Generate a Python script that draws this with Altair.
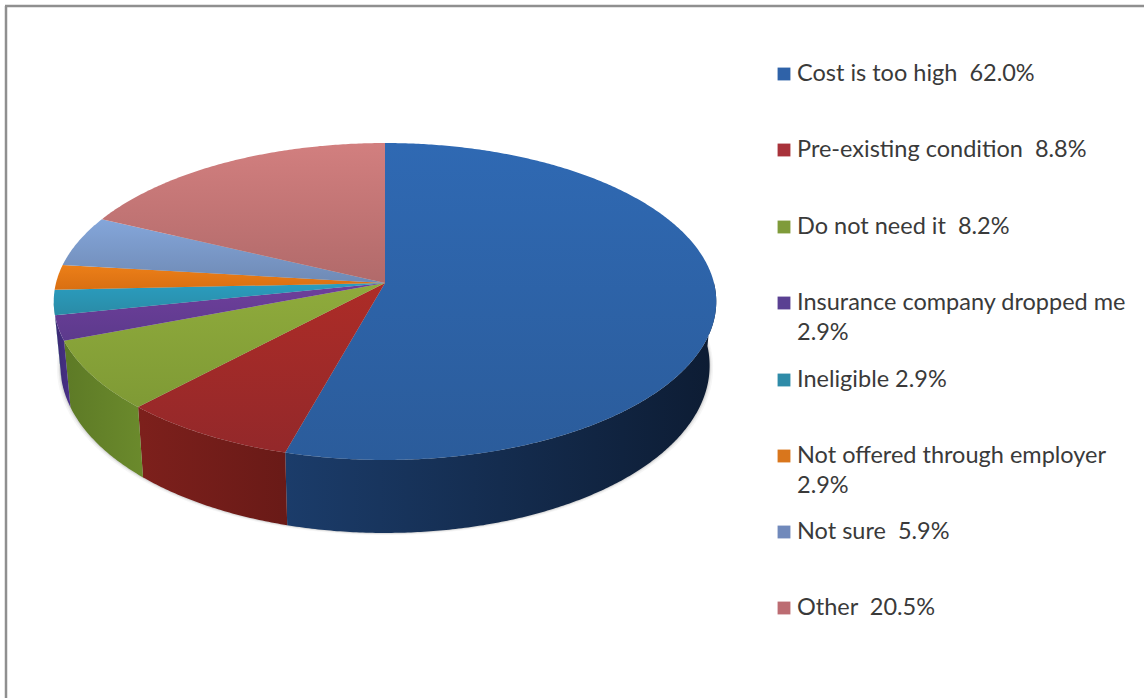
import numpy as np
import altair as alt

# Survey answers: reason, separator before the share, share in percent
reasons = ["Cost is too high", "Pre-existing condition", "Do not need it",
           "Insurance company dropped me", "Ineligible",
           "Not offered through employer", "Not sure", "Other"]
separators = ["\u00a0\u00a0", "\u00a0\u00a0", "\u00a0\u00a0", "\n", " ", "\n", "\u00a0\u00a0", "\u00a0\u00a0"]
shares = [62.0, 8.8, 8.2, 2.9, 2.9, 2.9, 5.9, 20.5]

# Slice styling: top face gradient (far, near), side wall gradient (left, right), key colour
top_far = ["#2f69b3", "#ad2c27", "#8fab3c", "#6f3f9c", "#2a9dbf", "#ec7f18", "#84a6da", "#d27f7f"]
top_near = ["#2b5c9b", "#93282a", "#7f9a35", "#5c3a8c", "#2a8ba6", "#d96f12", "#6f8ab5", "#b16a6a"]
side_left = ["#1b3c6a", "#7d201c", "#5d7a26", "#3a2a72", "#25707f", "#a55a10", "#55698c", "#8a5050"]
side_right = ["#0d1c33", "#691a17", "#6b8a2c", "#4a3088", "#25707f", "#a55a10", "#55698c", "#8a5050"]
key_colors = ["#2f62a8", "#a8323a", "#7f9b3a", "#5a4092", "#2e8ba8", "#d9761c", "#7089bb", "#bc6c72"]

# Key rows: vertical centre of the first line of each entry
row_y = [74, 150, 227, 303, 380, 456, 532, 608]
second_line_gap = 30

# Tilted disc: centre of the pie, half-widths and perspective strength
CX, CY = 385.0, 283.0
RX, RY = 329.0, 156.3
PERSPECTIVE = 0.1167
WALL_MIN, WALL_GAIN = 63.0, 10.0
WALL_SHRINK = 0.98


def rim(theta_deg):
    """Project clockwise-from-top angles onto the tilted rim of the top face."""
    t = np.radians(theta_deg)
    u, v = np.sin(t), -np.cos(t)
    w = 1 - PERSPECTIVE * v
    return CX + RX * u / w, CY + RY * v / w, v


def lower_rim(theta_deg):
    x, y, v = rim(theta_deg)
    return CX + (x - CX) * WALL_SHRINK, y + WALL_MIN + WALL_GAIN * v


def polygon(xs, ys):
    ring = [[float(a), float(b)] for a, b in zip(xs, ys)]
    ring.append(ring[0])
    return {"type": "Feature", "properties": {}, "geometry": {"type": "Polygon", "coordinates": [ring]}}


def gradient(first, second, horizontal):
    return alt.Gradient(
        gradient="linear",
        stops=[alt.GradientStop(color=first, offset=0), alt.GradientStop(color=second, offset=1)],
        x1=0, y1=0, x2=1 if horizontal else 0, y2=0 if horizontal else 1,
    )


projection = alt.Projection(type="identity", scale=1, translate=[0, 0])


def shape(feature, fill, **kw):
    return alt.Chart(alt.Data(values=[feature])).mark_geoshape(fill=fill, stroke=None, **kw).project(**projection.to_dict())


edges = np.concatenate([[0], np.cumsum(shares)]) / sum(shares) * 360
layers = []

# Soft shadow under the disc
ring = np.arange(0, 361, 2.0)
lx, ly = lower_rim(ring)
for grow, opacity in [(3.5, 0.05), (2.0, 0.08), (1.0, 0.12)]:
    sx = CX + (lx - CX) * (1 + grow / 325)
    sy = ly + grow * 0.6
    layers.append(shape(polygon(sx, sy), "#555555", opacity=opacity))

# Side walls, only on the near half of the rim
for i in range(len(shares)):
    a, b = max(edges[i], 90.0), min(edges[i + 1], 263.0)
    if b <= a:
        continue
    th = np.linspace(a, b, max(int(b - a) * 2, 4))
    tx, ty, _ = rim(th)
    bx, by = lower_rim(th)
    feature = polygon(np.concatenate([tx, bx[::-1]]), np.concatenate([ty, by[::-1]]))
    layers.append(shape(feature, gradient(side_left[i], side_right[i], True)))

# Top face wedges
for i in range(len(shares)):
    th = np.linspace(edges[i], edges[i + 1], max(int(edges[i + 1] - edges[i]) * 2, 6))
    tx, ty, _ = rim(th)
    feature = polygon(np.concatenate([[CX], tx]), np.concatenate([[CY], ty]))
    layers.append(shape(feature, gradient(top_far[i], top_near[i], False)))

# Frame along the top and left edges
frame = [
    alt.Chart(alt.Data(values=[{}])).mark_rule(color="#8f8f8f", strokeWidth=2.5).encode(
        x=alt.value(6), y=alt.value(6), y2=alt.value(698)),
    alt.Chart(alt.Data(values=[{}])).mark_rule(color="#8f8f8f", strokeWidth=2.5).encode(
        x=alt.value(5), x2=alt.value(1144), y=alt.value(6)),
]

# Key: squares and text lines
key_rows = [{"y": y, "color": c} for y, c in zip(row_y, key_colors)]
text_rows = []
for name, sep, value, y in zip(reasons, separators, shares, row_y):
    for n, line in enumerate(f"{name}{sep}{value:.1f}%".split("\n")):
        text_rows.append({"line": line, "y": y + n * second_line_gap})

squares = alt.Chart(alt.Data(values=key_rows)).mark_square(size=165, opacity=1).encode(
    x=alt.value(784),
    y=alt.Y("y:Q", scale=None),
    fill=alt.Fill("color:N", scale=None),
)
labels = alt.Chart(alt.Data(values=text_rows)).mark_text(
    align="left", baseline="middle", font="Lato", fontSize=23.5, color="#3a3a3a"
).encode(
    x=alt.value(797),
    y=alt.Y("y:Q", scale=None),
    text="line:N",
)

chart = alt.layer(*layers, *frame, squares, labels).properties(
    width=1144, height=698, padding=0,
    autosize=alt.AutoSizeParams(type="none"),
    background="#ffffff",
).configure_view(stroke=None)

chart.save("out.html", embed_options={"renderer": "svg", "actions": False})
